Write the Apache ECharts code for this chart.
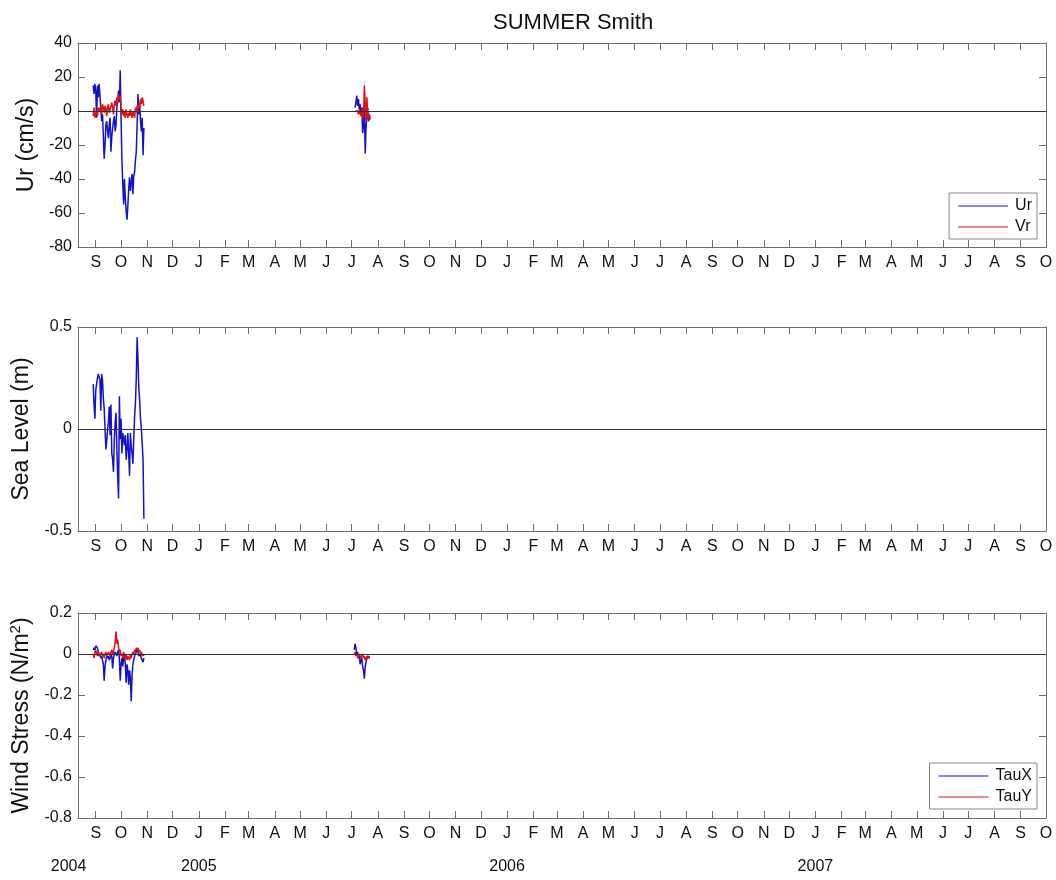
<!DOCTYPE html>
<html>
<head>
<meta charset="utf-8">
<title>SUMMER Smith</title>
<script src="https://cdn.jsdelivr.net/npm/echarts@6/dist/echarts.min.js"></script>
<style>
    html, body { margin: 0; padding: 0; background: #fff; }
    #chart { width: 1056px; height: 880px; }
</style>
</head>
<body>
<div id="chart"></div>
<script>
// days since 2004-09-01, one value per day
const seg1Start = -3;
const seg2Start = 307;

const ur1 = [15, 10, 16, 12, -4, 15, 8, 16, 17, 2, -6, -2, -15, -28, -20, -8, -6, -12, -16, -8,
    -4, -24, -15, -10, -6, -3, -12, -8, 2, 6, 12, 5, 24, -5, -29, -43, -55, -40, -51, -59,
    -64, -56, -46, -39, -47, -42, -37, -49, -38, -36, -29, -24, -8, 10, -2, 4, -6, -12, -4, -26, -10];
const vr1 = [-3, 2, -4, -2, 0, -3, 2, 0, -1, 3, -2, 4, 2, -1, 3, 1, -3, 2, 4, -1,
    0, 3, 5, 2, -2, 4, 6, 3, 8, 5, 10, 7, 9, 2, -2, 1, -3, 0, -4, 1,
    -2, -4, -1, -3, 1, -2, -4, 0, -2, -4, 2, -1, 3, 0, 5, 2, 7, 4, 8, 6, 3];
const ur2 = [2, 5, 9, 3, 7, 1, 4, -2, 2, -13, -8, 3, -25, -10, -3, 2, -6, -4, -5];
const vr2 = [0, -1, 1, 0, -2, 1, 0, -3, -4, 2, -5, 15, 5, -6, 8, -3, -5, -2, -4];

const sea1 = [0.22, 0.12, 0.05, 0.19, 0.22, 0.25, 0.27, 0.27, 0.24, 0.09, 0.27, 0.24, 0.15, 0.10, 0.00, -0.10,
    -0.06, 0.00, 0.03, 0.11, -0.03, 0.12, -0.12, -0.15, -0.21, -0.05, 0.03, 0.08, -0.10, -0.23, -0.34, 0.16,
    -0.05, 0.05, -0.12, -0.02, -0.05, -0.08, -0.03, -0.15, -0.10, -0.02, -0.12, -0.23, -0.02, -0.08, -0.12, -0.17,
    -0.05, 0.06, 0.13, 0.25, 0.45, 0.34, 0.20, 0.14, 0.05, 0.00, -0.07, -0.15, -0.44];

const taux1 = [0.02, 0.03, 0.02, 0.04, 0.04, 0.03, 0.01, -0.01, 0.00, -0.02, -0.01, -0.03, -0.05, -0.13, -0.06, -0.03,
    -0.01, -0.02, -0.01, -0.03, -0.02, 0.00, -0.01, -0.07, -0.02, 0.00, 0.01, 0.00, -0.01, 0.01, 0.02, -0.02,
    -0.13, -0.05, -0.02, -0.06, -0.02, -0.01, -0.05, -0.14, -0.05, -0.08, -0.15, -0.08, -0.12, -0.23, -0.10, -0.05,
    -0.03, -0.01, 0.00, 0.01, 0.02, 0.01, -0.01, 0.00, -0.01, -0.02, -0.03, -0.04, -0.02];
const tauy1 = [0.00, -0.02, 0.01, 0.02, 0.00, -0.01, 0.01, 0.00, -0.01, 0.00, 0.01, -0.01, 0.00, -0.02, 0.00, 0.01,
    -0.01, 0.00, 0.01, 0.00, -0.01, 0.01, 0.02, 0.00, 0.01, 0.03, 0.06, 0.11, 0.05, 0.07, 0.03, 0.01,
    0.02, -0.01, 0.00, -0.02, 0.01, -0.01, -0.02, 0.00, -0.03, -0.01, -0.02, -0.03, 0.00, -0.02, 0.00, 0.01,
    0.00, 0.02, 0.01, 0.03, 0.02, 0.03, 0.01, 0.02, 0.00, 0.01, -0.01, 0.00, -0.01];
const taux2 = [0.02, 0.05, 0.03, 0.00, 0.01, -0.02, -0.01, -0.05, -0.03, -0.02, -0.06, -0.08, -0.12, -0.06, -0.04, -0.02, -0.01, -0.02, -0.01];
const tauy2 = [0.00, 0.01, -0.01, 0.00, -0.02, -0.01, 0.00, -0.01, -0.02, -0.01, 0.00, -0.02, -0.01, -0.03, -0.02, -0.01, -0.02, -0.01, -0.02];
const tau2Start = 306;

const monthLetters = ['J', 'F', 'M', 'A', 'M', 'J', 'J', 'A', 'S', 'O', 'N', 'D'];
const yearLabels = ['2004', '2005', '2006', '2007'];
const xMin = -21;
const xMax = 1125;

// month starts, Sep 2004 .. Oct 2007, in days since 2004-09-01
const t0 = Date.UTC(2004, 8, 1);
const monthTicks = [];
const monthText = {};
for (let k = 0; k <= 37; k++) {
    const d = Math.round((Date.UTC(2004, 8 + k, 1) - t0) / 86400000);
    monthTicks.push(d);
    monthText[d] = monthLetters[(8 + k) % 12];
}
const yearDays = [xMin + 0.1];
for (let y = 2005; y <= 2007; y++) yearDays.push(Math.round((Date.UTC(y, 0, 1) - t0) / 86400000));

function build(start, vals) {
    return vals.map((v, i) => [start + i, v]);
}
function twoSegs(s1, a, s2, b) {
    return build(s1, a).concat([[(s1 + a.length + s2) / 2, '-']], build(s2, b));
}

const font = 'Liberation Sans, Arial, Helvetica, sans-serif';
const axisColor = '#6e6e6e';
const textColor = '#111';
const grids = [
    { left: 78, right: 10, top: 43, height: 204 },
    { left: 78, right: 10, top: 327, height: 204 },
    { left: 78, right: 10, top: 613, height: 205 }
];

const xAxes = [];
const yAxes = [];
const yCfg = [
    { min: -80, max: 40, interval: 20, name: 'Ur (cm/s)', gap: 36 },
    { min: -0.5, max: 0.5, interval: 0.5, name: 'Sea Level (m)', gap: 43 },
    { min: -0.8, max: 0.2, interval: 0.2, name: '{a|Wind Stress (N/m}{s|2}{a|)}', gap: 39 }
];
for (let p = 0; p < 3; p++) {
    xAxes.push({
        type: 'value', gridIndex: p, position: 'bottom', min: xMin, max: xMax,
        axisLine: { onZero: false, lineStyle: { color: axisColor } },
        axisTick: { inside: true, length: 7, customValues: monthTicks, lineStyle: { color: axisColor } },
        axisLabel: {
            customValues: monthTicks, margin: 8, color: textColor, fontSize: 16, fontFamily: font,
            formatter: v => monthText[Math.round(v)] || ''
        },
        splitLine: { show: false }
    });
    xAxes.push({
        type: 'value', gridIndex: p, position: 'top', min: xMin, max: xMax,
        axisLine: { onZero: false, lineStyle: { color: axisColor } },
        axisTick: { inside: true, length: 7, customValues: monthTicks, lineStyle: { color: axisColor } },
        axisLabel: { show: false },
        splitLine: { show: false }
    });
    const c = yCfg[p];
    yAxes.push({
        type: 'value', gridIndex: p, position: 'left', min: c.min, max: c.max, interval: c.interval,
        name: c.name, nameLocation: 'middle', nameGap: c.gap,
        nameTextStyle: {
            fontSize: 23, color: textColor, fontFamily: font,
            rich: {
                a: { fontSize: 23, color: textColor, fontFamily: font },
                s: { fontSize: 15, color: textColor, fontFamily: font, padding: [0, 0, 12, 0] }
            }
        },
        axisLine: { show: true, onZero: false, lineStyle: { color: axisColor } },
        axisTick: { show: true, inside: true, length: 7, lineStyle: { color: axisColor } },
        axisLabel: { color: textColor, fontSize: 16, fontFamily: font, margin: 6 },
        splitLine: { show: false }
    });
    yAxes.push({
        type: 'value', gridIndex: p, position: 'right', min: c.min, max: c.max, interval: c.interval,
        axisLine: { show: true, onZero: false, lineStyle: { color: axisColor } },
        axisTick: { show: true, inside: true, length: 7, lineStyle: { color: axisColor } },
        axisLabel: { show: false },
        splitLine: { show: false }
    });
}
// year row under the last panel
xAxes.push({
    type: 'value', gridIndex: 2, position: 'bottom', offset: 38, min: xMin, max: xMax,
    axisLine: { show: false, onZero: false },
    axisTick: { show: false },
    axisLabel: {
        customValues: yearDays, margin: 3, color: textColor, fontSize: 16, fontFamily: font,
        formatter: v => {
            const i = yearDays.indexOf(v);
            return i === 0 ? '{l|' + yearLabels[0] + '}' : yearLabels[i];
        },
        rich: { l: { fontSize: 16, color: textColor, fontFamily: font, padding: [0, 19, 0, 0] } }
    },
    splitLine: { show: false }
});

const zeroLine = {
    silent: true, symbol: 'none', label: { show: false },
    lineStyle: { color: '#333', width: 1, type: 'solid' },
    data: [{ yAxis: 0 }]
};
const blue = '#1212cc';
const red = '#e01010';

function line(name, p, color, data, withZero) {
    const s = {
        name: name, type: 'line', xAxisIndex: p * 2, yAxisIndex: p * 2,
        data: data, showSymbol: false, connectNulls: false,
        lineStyle: { color: color, width: 1.5 }, itemStyle: { color: color },
        emphasis: { disabled: true }
    };
    if (withZero) s.markLine = zeroLine;
    return s;
}

const legendBase = {
    orient: 'vertical', right: 19, icon: 'rect', itemWidth: 50, itemHeight: 1, itemGap: 5,
    backgroundColor: '#fff', borderColor: '#888', borderWidth: 1, padding: [5, 5, 4, 9],
    textStyle: { fontSize: 16, color: textColor, fontFamily: font, padding: [0, 0, 0, 2] }
};

const option = {
    animation: false,
    backgroundColor: '#fff',
    title: {
        text: 'SUMMER Smith', left: 488, top: 7,
        textStyle: { fontSize: 22, fontWeight: 'normal', color: textColor, fontFamily: font }
    },
    grid: grids,
    xAxis: xAxes,
    yAxis: yAxes,
    legend: [
        Object.assign({}, legendBase, { top: 193, data: ['Ur', 'Vr'] }),
        Object.assign({}, legendBase, { top: 763, data: ['TauX', 'TauY'] })
    ],
    series: [
        line('Ur', 0, blue, twoSegs(seg1Start, ur1, seg2Start, ur2), true),
        line('Vr', 0, red, twoSegs(seg1Start, vr1, seg2Start, vr2), false),
        line('Sea Level', 1, blue, build(seg1Start, sea1), true),
        line('TauX', 2, blue, twoSegs(seg1Start, taux1, tau2Start, taux2), true),
        line('TauY', 2, red, twoSegs(seg1Start, tauy1, tau2Start, tauy2), false)
    ]
};

const myChart = echarts.init(document.getElementById('chart'));
myChart.setOption(option);
</script>
</body>
</html>
